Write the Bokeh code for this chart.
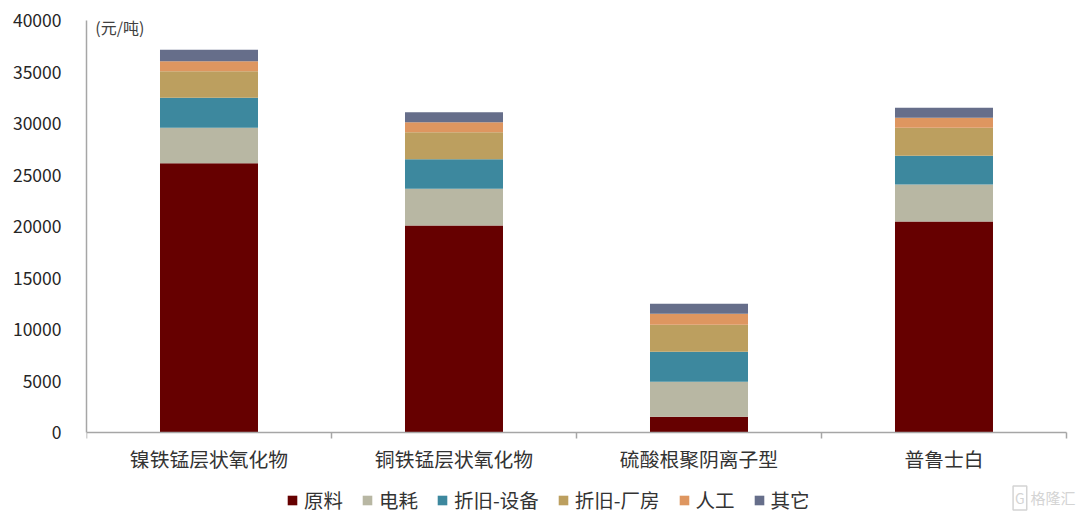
from bokeh.plotting import figure
from bokeh.embed import file_html
from bokeh.resources import INLINE
from bokeh.models import Range1d, Label, FixedTicker, Legend, LegendItem, ColumnDataSource, LinearAxis

categories = ["镍铁锰层状氧化物", "铜铁锰层状氧化物", "硫酸根聚阴离子型", "普鲁士白"]
series_names = ["原料", "电耗", "折旧-设备", "折旧-厂房", "人工", "其它"]
raw = [26150, 20100, 1520, 20490]
power = [3430, 3560, 3400, 3590]
equip = [2920, 2870, 2920, 2780]
plant = [2580, 2620, 2620, 2720]
labor = [970, 980, 1060, 970]
other = [1100, 970, 970, 970]
colors = ["#660000", "#B8B7A3", "#3D889E", "#BC9F5F", "#DE9660", "#666E8A"]
y_ticks = [0, 5000, 10000, 15000, 20000, 25000, 30000, 35000, 40000]

FONT = "Noto Sans CJK SC"
centers = [i + 0.5 for i in range(len(categories))]
bounds = list(range(len(categories) + 1))

p = figure(width=1078, height=514, x_range=Range1d(0, 4.049), y_range=Range1d(-7961, 40000),
           x_axis_location=None, output_backend="svg", toolbar_location=None, outline_line_color=None,
           min_border_left=86, min_border_right=0, min_border_top=20, min_border_bottom=0)
p.grid.visible = False
data = {"x": centers}
for n, v in zip(series_names, [raw, power, equip, plant, labor, other]):
    data[n] = v
src = ColumnDataSource(data)
rs = p.vbar_stack(series_names, x="x", width=0.4, color=colors, source=src, line_color=None)

p.yaxis.ticker = FixedTicker(ticks=y_ticks)
p.yaxis.bounds = (0, 40000)
p.yaxis.formatter.use_scientific = False
p.yaxis.major_label_text_font_size = "17.5px"
p.yaxis.major_label_text_font = FONT
p.yaxis.major_label_text_color = "#262626"
p.yaxis.axis_line_color = "#a6a6a6"
p.yaxis.axis_line_width = 1.5
p.yaxis.major_tick_line_color = None
p.yaxis.minor_tick_line_color = None
p.yaxis.major_label_standoff = 19

xaxis = LinearAxis(fixed_location=0, bounds=(0, len(categories)),
                   ticker=FixedTicker(ticks=centers, minor_ticks=bounds))
xaxis.major_label_overrides = {c: t for c, t in zip(centers, categories)}
xaxis.axis_line_color = "#a6a6a6"
xaxis.axis_line_width = 1.5
xaxis.major_tick_line_color = None
xaxis.minor_tick_line_color = "#a6a6a6"
xaxis.minor_tick_line_width = 1.5
xaxis.minor_tick_in = 0
xaxis.minor_tick_out = 6
xaxis.major_label_text_font_size = "19.8px"
xaxis.major_label_text_font = FONT
xaxis.major_label_text_color = "#333333"
xaxis.major_label_standoff = 5
p.add_layout(xaxis, "below")

p.add_layout(Label(x=0.036, y=39400, text="(元/吨)", text_baseline="middle",
                   text_font=FONT, text_font_size="16px", text_color="#404040"))
p.add_layout(Label(x=3.853, y=-6350, text="格隆汇", text_baseline="middle",
                   text_font=FONT, text_font_size="15px", text_color="#d4d4d4"))
p.add_layout(Label(x=3.782, y=-6350, text="G", text_baseline="middle",
                   text_font=FONT, text_font_size="14px", text_color="#d4d4d4",
                   border_line_color="#d4d4d4", border_line_width=1.5, padding=2))

legend = Legend(items=[LegendItem(label=n, renderers=[r]) for n, r in zip(series_names, rs)],
                orientation="horizontal", location=(200, 0), border_line_color=None,
                background_fill_alpha=0, label_text_font=FONT, label_text_font_size="19.5px",
                label_text_color="#333333", glyph_width=12, glyph_height=12, spacing=18,
                label_standoff=6, margin=0, padding=0)
p.add_layout(legend, "center")
open("out.html", "w").write(file_html(p, INLINE))
